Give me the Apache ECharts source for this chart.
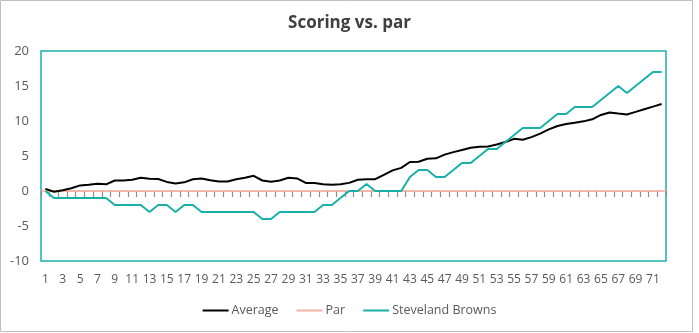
<!DOCTYPE html>
<html>
<head>
<meta charset="utf-8">
<script src="https://cdn.jsdelivr.net/npm/echarts@6/dist/echarts.min.js"></script>
<style>html,body{margin:0;padding:0;background:#fff}#c{width:699px;height:333px}</style>
</head>
<body>
<div id="c"></div>
<script>
const categories = Array.from({length: 72}, (_, i) => String(i + 1));
const average = [0.3,-0.1,0.1,0.4,0.8,0.9,1.05,0.95,1.5,1.5,1.6,1.9,1.75,1.72,1.3,1.08,1.24,1.67,1.8,1.55,
  1.35,1.35,1.69,1.9,2.17,1.5,1.31,1.5,1.9,1.8,1.16,1.14,0.97,0.88,0.97,1.16,1.6,1.69,1.69,2.3,
  2.95,3.3,4.15,4.17,4.6,4.67,5.2,5.55,5.85,6.17,6.31,6.36,6.64,7.0,7.45,7.33,7.7,8.19,8.8,9.29,
  9.57,9.76,9.95,10.24,10.86,11.22,11.07,10.93,11.3,11.68,12.05,12.43];
const par = categories.map(() => 0);
const steveland = [0,-1,-1,-1,-1,-1,-1,-1,-2,-2,-2,-2,-3,-2,-2,-3,-2,-2,-3,-3,
  -3,-3,-3,-3,-3,-4,-4,-3,-3,-3,-3,-3,-2,-2,-1,0,0,1,0,0,
  0,0,2,3,3,2,2,3,4,4,5,6,6,7,8,9,9,9,10,11,
  11,12,12,12,13,14,15,14,15,16,17,17];
const yMin = -10, yMax = 20;

const teal = '#1AB0AA';
const parColor = '#F4B2A2';
const font = "'Open Sans', 'Noto Sans', sans-serif";
const gridTop = 51, gridBottom = 72, H = 333;
const plotH = H - gridTop - gridBottom;
const zeroTop = gridTop + plotH * (yMax - 0) / (yMax - yMin);

const chart = echarts.init(document.getElementById('c'));
chart.setOption({
  animation: false,
  textStyle: {fontFamily: font},
  title: {text: 'Scoring vs. par', left: 'center', top: 10,
    textStyle: {fontSize: 17, fontWeight: 'bold', color: '#404040', fontFamily: font}},
  graphic: [{type: 'rect', shape: {x: 0.5, y: 0.5, width: 692, height: 331},
    style: {fill: 'none', stroke: '#BFBFBF', lineWidth: 1}, silent: true}],
  grid: [{left: 41, right: 33, top: gridTop, bottom: gridBottom, show: true, borderColor: teal, borderWidth: 1.5},
    {left: 41, right: 33, top: zeroTop, bottom: gridBottom, show: false}],
  legend: {bottom: 11, left: 'center', itemWidth: 26, itemHeight: 2, itemGap: 18, icon: 'rect',
    textStyle: {fontSize: 12.5, color: '#595959', fontFamily: font, padding: [0, 0, 0, -2]},
    data: ['Average', 'Par', 'Steveland Browns']},
  xAxis: [{type: 'category', gridIndex: 0, data: categories, boundaryGap: true, position: 'bottom',
      axisLine: {show: false, onZero: false}, axisTick: {show: false},
      axisLabel: {interval: 1, color: '#595959', fontSize: 12, margin: 13, fontFamily: font}},
    {type: 'category', gridIndex: 1, data: categories, boundaryGap: true, position: 'top',
      axisLine: {show: true, onZero: false, lineStyle: {color: parColor, width: 1.5}},
      axisTick: {show: true, inside: true, length: 6, interval: 0, lineStyle: {color: '#8C8C8C', width: 1.2}},
      axisLabel: {show: false}}],
  yAxis: [{type: 'value', gridIndex: 0, min: yMin, max: yMax, interval: 5,
    splitLine: {show: false}, axisLine: {show: false}, axisTick: {show: false},
    axisLabel: {color: '#595959', fontSize: 13, margin: 12, fontFamily: font}},
    {type: 'value', gridIndex: 1, min: yMin, max: 0, show: false}],
  series: [
    {name: 'Average', type: 'line', data: average, symbol: 'none', z: 4,
      lineStyle: {color: '#000000', width: 2}, itemStyle: {color: '#000000'}},
    {name: 'Par', type: 'line', data: par, symbol: 'none', z: 3, xAxisIndex: 1, yAxisIndex: 1,
      lineStyle: {color: parColor, width: 1.5}, itemStyle: {color: parColor}},
    {name: 'Steveland Browns', type: 'line', data: steveland, symbol: 'none', z: 5,
      lineStyle: {color: teal, width: 2}, itemStyle: {color: teal}}
  ]
});
</script>
</body>
</html>
